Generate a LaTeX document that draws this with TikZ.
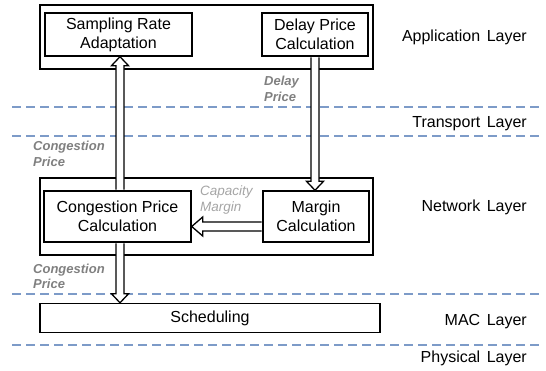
\documentclass[tikz,border=0pt]{standalone}
\usepackage{fontspec}
\setmainfont{Liberation Sans}
\usetikzlibrary{calc}
\definecolor{dashblue}{RGB}{125,155,200}
\definecolor{lblgray}{RGB}{128,128,128}
\definecolor{capgray}{RGB}{165,165,165}
% hollow block arrows: vertical (x from #1, y from #1 to #2) and horizontal
\newcommand{\vblockarrow}[2]{\path[harrow] let \p1=(#1), \p2=(#2), \n1={sign(\y2-\y1)} in
  ({\x1-4pt},{\y1+\n1*0.7pt}) -- ({\x1-4pt},{\y2-\n1*9pt}) -- ({\x1-8.5pt},{\y2-\n1*9pt}) -- (\x1,\y2)
  -- ({\x1+8.5pt},{\y2-\n1*9pt}) -- ({\x1+4pt},{\y2-\n1*9pt}) -- ({\x1+4pt},{\y1+\n1*0.7pt});}
\newcommand{\hblockarrow}[2]{\path[harrow] let \p1=(#1), \p2=(#2), \n1={sign(\x2-\x1)} in
  ({\x1+\n1*0.7pt},{\y1-4.5pt}) -- ({\x2-\n1*11pt},{\y1-4.5pt}) -- ({\x2-\n1*11pt},{\y1-9.5pt}) -- (\x2,\y1)
  -- ({\x2-\n1*11pt},{\y1+9.5pt}) -- ({\x2-\n1*11pt},{\y1+4.5pt}) -- ({\x1+\n1*0.7pt},{\y1+4.5pt});}
\newcommand{\widespace}{\spaceskip=6.5pt\relax}
\begin{document}
\begin{tikzpicture}[x=1pt,y=-1pt,
  box/.style={draw,line width=1.4pt,inner sep=0pt,align=center,font=\fontsize{16}{19}\selectfont},
  outer/.style={draw,line width=1.4pt,inner sep=0pt},
  layer/.style={anchor=base east,inner sep=0pt,font=\fontsize{16}{19}\selectfont\widespace},
  lbl/.style={anchor=base west,align=left,inner sep=0pt,text=lblgray,font=\fontsize{13}{16}\selectfont\bfseries\itshape},
  caplbl/.style={anchor=base west,align=left,inner sep=0pt,text=capgray,font=\fontsize{13.5}{16}\selectfont\itshape},
  sep/.style={dashblue,line width=1.2pt,dash pattern=on 9pt off 5pt},
  harrow/.style={draw,fill=white,line width=1.3pt,line join=miter}]
\useasboundingbox (0,0) rectangle (546,371);

% layer separators
\draw[sep] (12,107) -- (540,107);
\draw[sep] (12,136) -- (540,136);
\draw[sep] (12,294) -- (540,294);
\draw[sep] (12,345) -- (540,345);

% outer layer boxes
\node[outer,minimum width=333pt,minimum height=64pt] (appbox) at (206.5,37) {};
\node[outer,minimum width=333pt,minimum height=77pt] (netbox) at (206.5,216.5) {};

% function boxes
\node[box,minimum width=147pt,minimum height=43pt] (samp) at (118.5,34.5) {Sampling Rate\\Adaptation};
\node[box,minimum width=106pt,minimum height=43pt] (delay) at (315,34.5) {Delay Price\\Calculation};
\node[box,minimum width=147pt,minimum height=51pt] (cpc) at (117.5,216.5) {Congestion Price\\Calculation};
\node[box,minimum width=106pt,minimum height=51pt] (margin) at (316,216.5) {Margin\\Calculation};
\node[box,minimum width=340pt,minimum height=29pt] (sched) at (210,318) {Scheduling};

% layer names
\node[layer] (lapp) at (527,42) {Application Layer};
\node[layer] (ltra) at (527,128) {Transport Layer};
\node[layer] (lnet) at (527,212) {Network Layer};
\node[layer] (lmac) at (527,325) {MAC Layer};
\node[layer] (lphy) at (527,362) {Physical Layer};

% arrows
\vblockarrow{$(cpc.north)+(2.5,0)$}{samp.south}
\vblockarrow{delay.south}{margin.north}
\hblockarrow{$(margin.west)+(0,10)$}{cpc.east}
\vblockarrow{$(cpc.south)+(2.5,0)$}{sched.north}

% arrow labels (anchored at the baseline of the last line)
\node[lbl] (ldelay) at (264,102) {Delay\\Price};
\node[lbl] (lcong1) at (33,167) {Congestion\\Price};
\node[caplbl] (lcap) at (200,212) {Capacity\\Margin};
\node[lbl] (lcong2) at (33,289) {Congestion\\Price};
\end{tikzpicture}
\end{document}
